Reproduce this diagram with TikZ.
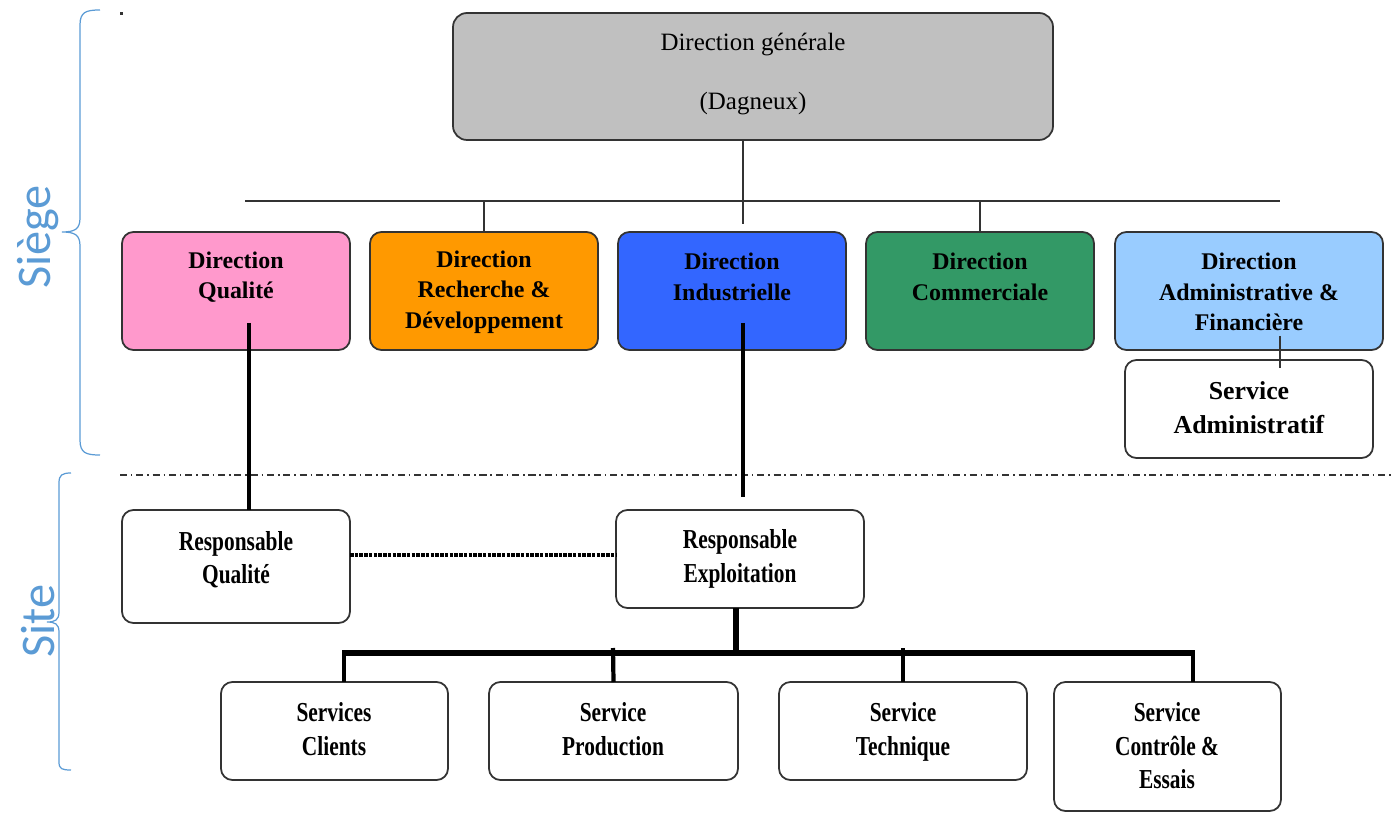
\documentclass[tikz,border=0pt]{standalone}
\usepackage{fontspec}
\setmainfont{Liberation Serif}
\newfontfamily\condfont[FakeStretch=0.78]{Liberation Serif}
\newfontfamily\sidefont{Carlito}
\definecolor{brace}{HTML}{5B9BD5}
\definecolor{dggray}{HTML}{C0C0C0}
\definecolor{cpink}{HTML}{FF99CC}
\definecolor{corange}{HTML}{FF9900}
\definecolor{cblue}{HTML}{3366FF}
\definecolor{cgreen}{HTML}{339966}
\definecolor{clight}{HTML}{99CCFF}
\definecolor{edge}{HTML}{333333}
\newcommand\orgbox[6]{\node[box,#6,minimum width={(#4-#2)*0.02cm},minimum height={(#5-#3)*0.02cm}] (#1) at ({(#2+#4)/2},{(#3+#5)/2}) {};}
\begin{document}
\begin{tikzpicture}[x=0.02cm,y=-0.02cm,
  box/.style={draw=edge,line width=1pt,rounded corners=6.5pt,inner sep=0pt,outer sep=0pt,fill=white},
  ttop/.style={align=center,font=\fontsize{13.6}{17.4}\selectfont\bfseries,inner sep=0pt},
  tsa/.style={align=center,font=\fontsize{14.7}{19.3}\selectfont\bfseries,inner sep=0pt},
  tbot/.style={align=center,font=\condfont\fontsize{15.6}{19}\selectfont\bfseries,inner sep=0pt},
  tdg/.style={align=center,font=\fontsize{14.2}{34}\selectfont,inner sep=0pt},
  side/.style={font=\sidefont\fontsize{27.5}{30}\selectfont,text=brace,rotate=90,inner sep=0pt},
  thin/.style={draw=edge,line width=0.85pt},
  thick/.style={draw=black,line width=2.8pt},
  bus/.style={draw=black,line width=3.4pt},
  tick/.style={draw=black,line width=2.4pt},
  bracel/.style={draw=brace,line width=0.7pt},
  sep/.style={draw=black!80,line width=0.85pt,dash pattern=on 4pt off 2.2pt on 0.9pt off 2.2pt},
  dots/.style={draw=black,line width=1.8pt,dash pattern=on 2pt off 0.7pt}]
\useasboundingbox (0,0) rectangle (1391,813);
% side labels and braces
\node[side] (siege) at (38,237) {Siège};
\node[side] (site) at (38,621) {Site};
\draw[bracel] (100,10) .. controls (86,10) and (80,12) .. (80,25) -- (80,218) .. controls (80,229) and (75,232) .. (62,232) .. controls (75,232) and (80,235) .. (80,246) -- (80,440) .. controls (80,453) and (86,455) .. (100,455);
\draw[bracel] (71,473) .. controls (62,473) and (59,475) .. (59,483) -- (59,612) .. controls (59,620) and (55,622) .. (47,622) .. controls (55,622) and (59,624) .. (59,632) -- (59,762) .. controls (59,769) and (62,770) .. (71,770);
\fill[black!80] (120,12) rectangle (123,15);
% separator
\coordinate (sepl) at (120,475);
\coordinate (sepr) at (1391,475);
\draw[sep] (sepl) -- (sepr);
% boxes
\orgbox{dg}{453}{13}{1053}{140}{fill=dggray,rounded corners=8pt}
\orgbox{dq}{122}{232}{350}{350}{fill=cpink}
\orgbox{rd}{370}{232}{598}{350}{fill=corange}
\orgbox{di}{618}{232}{846}{350}{fill=cblue}
\orgbox{dc}{866}{232}{1094}{350}{fill=cgreen}
\orgbox{daf}{1115}{232}{1383}{350}{fill=clight}
\orgbox{sa}{1125}{360}{1373}{458}{}
\orgbox{rq}{122}{510}{350}{623}{}
\orgbox{re}{616}{510}{864}{608}{}
\orgbox{sc}{221}{682}{448}{780}{}
\orgbox{sp}{489}{682}{738}{780}{}
\orgbox{st}{779}{682}{1027}{780}{}
\orgbox{sce}{1054}{682}{1281}{811}{}
% texts
\node[tdg] (dgt) at (753,74) {Direction générale\\(Dagneux)};
\node[ttop] (dqt) at (236,277) {Direction\\Qualité};
\node[ttop] (rdt) at (484,292) {Direction\\Recherche \&\\Développement};
\node[ttop] (dit) at (732,277) {Direction\\Industrielle};
\node[ttop] (dct) at (980,277) {Direction\\Commerciale};
\node[ttop] (daft) at (1249,292) {Direction\\Administrative \&\\Financière};
\node[tsa] (sat) at (1249,408) {Service\\Administratif};
\node[tbot] (rqt) at (236,560) {Responsable\\Qualité};
\node[tbot] (ret) at (740,559) {Responsable\\Exploitation};
\node[tbot] (sct) at (334,729) {Services\\Clients};
\node[tbot] (spt) at (613,729) {Service\\Production};
\node[tbot] (stt) at (903,732) {Service\\Technique};
\node[tbot] (scet) at (1167,746) {Service\\Contrôle \&\\Essais};
% top hierarchy
\coordinate (hl) at (245,201);
\coordinate (hr) at (1280,201);
\coordinate (dgend) at (743,224);
\draw[thin] (hl) -- (hr);
\draw[thin] (dgend |- dg.south) -- (dgend);
\draw[thin] (rd.north |- hl) -- (rd.north);
\draw[thin] (dc.north |- hl) -- (dc.north);
\coordinate (dafin) at (1280,336);
\draw[thin] (dafin) -- (dafin |- sa.north) -- ++(0,8);
% thick links
\coordinate (dqin) at (249,323);
\draw[thick] (dqin) -- (dqin |- rq.north);
\coordinate (diin) at (743,323);
\coordinate (diend) at (743,497);
\draw[thick] (diin) -- (diend);
\coordinate (dotl) at (350,555);
\draw[dots] (dotl) -- (dotl -| re.west);
% bus
\coordinate (busm) at (736,653);
\coordinate (busl) at (344,653);
\coordinate (busr) at (1195,653);
\draw[bus] (busm |- re.south) -- (busm);
\draw[bus] (busl) -- (busr);
\draw[tick] (344,650) -- (344,682);
\draw[tick] (613,648) -- (sp.north);
\draw[tick] (903,648) -- (st.north);
\draw[tick] (1193,650) -- (1193,682);
\end{tikzpicture}
\end{document}
